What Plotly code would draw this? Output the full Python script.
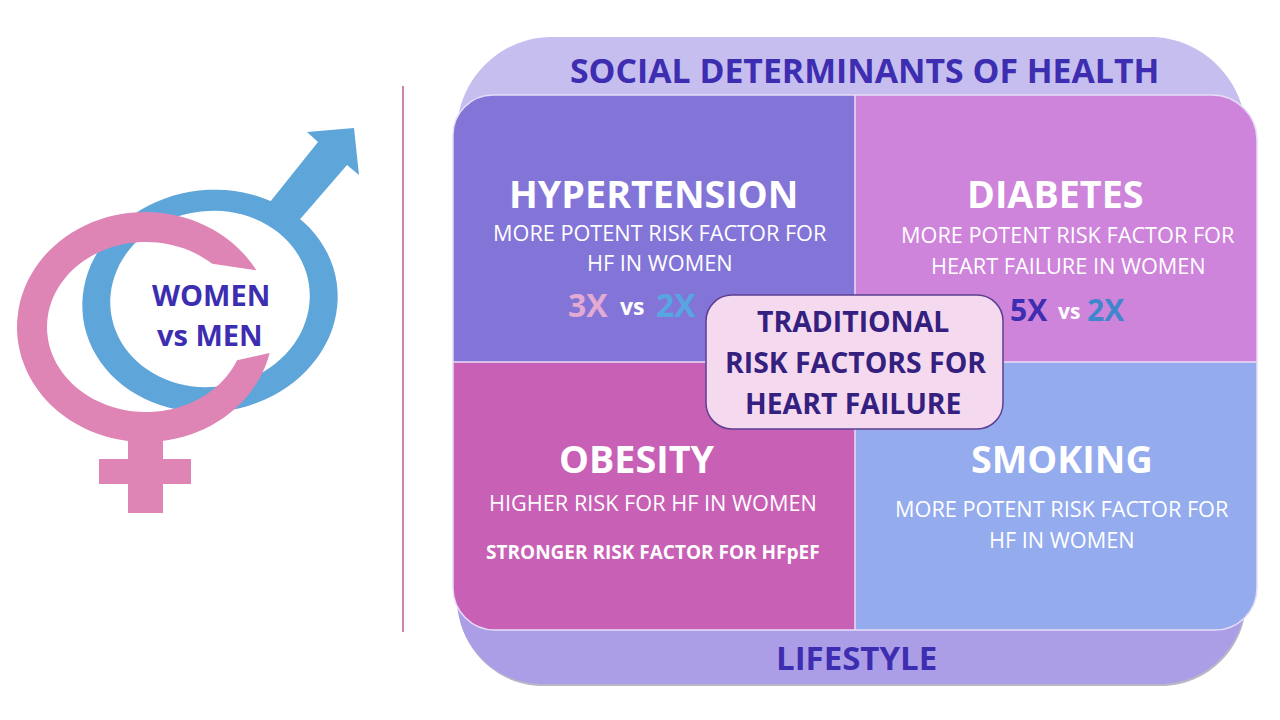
import math

import plotly.graph_objects as go

# hard-coded
FONT = "Open Sans"
INK = "#3D2DB0"
DARK_INK = "#33207F"
PINK = "#DF85B6"
BLUE = "#5EA5D9"

band_labels = ["SOCIAL DETERMINANTS OF HEALTH", "LIFESTYLE"]
factor_names = ["HYPERTENSION", "DIABETES", "OBESITY", "SMOKING"]
factor_notes = [
    ["MORE POTENT RISK FACTOR FOR", "HF IN WOMEN"],
    ["MORE POTENT RISK FACTOR FOR", "HEART FAILURE IN WOMEN"],
    ["HIGHER RISK FOR HF IN WOMEN"],
    ["MORE POTENT RISK FACTOR FOR", "HF IN WOMEN"],
]
obesity_extra = "STRONGER RISK FACTOR FOR HFpEF"
center_lines = ["TRADITIONAL", "RISK FACTORS FOR", "HEART FAILURE"]
symbol_lines = ["WOMEN", "vs MEN"]
hypertension_women, hypertension_men = "3X", "2X"
diabetes_women, diabetes_men = "5X", "2X"
versus = "vs"


def rounded(x0, y0, x1, y1, tl=0, tr=0, br=0, bl=0):
    """Closed svg path of a box with its own radius on every corner"""
    k = 0.45
    return (
        f"M{x0 + tl},{y0} L{x1 - tr},{y0} "
        f"C{x1 - tr * k},{y0} {x1},{y0 + tr * k} {x1},{y0 + tr} "
        f"L{x1},{y1 - br} "
        f"C{x1},{y1 - br * k} {x1 - br * k},{y1} {x1 - br},{y1} "
        f"L{x0 + bl},{y1} "
        f"C{x0 + bl * k},{y1} {x0},{y1 - bl * k} {x0},{y1 - bl} "
        f"L{x0},{y0 + tl} "
        f"C{x0},{y0 + tl * k} {x0 + tl * k},{y0} {x0 + tl},{y0} Z"
    )


def arc(cx, cy, rx, ry, start, stop, tilt=0.0):
    """Points along an ellipse, angles in degrees, y pointing down"""
    n = 90
    pts = []
    t = math.radians(tilt)
    for i in range(n + 1):
        a = math.radians(start + (stop - start) * i / n)
        dx, dy = rx * math.cos(a), ry * math.sin(a)
        pts.append((cx + dx * math.cos(t) - dy * math.sin(t),
                    cy + dx * math.sin(t) + dy * math.cos(t)))
    return pts


def poly(pts):
    return "M" + " L".join(f"{x:.1f},{y:.1f}" for x, y in pts) + " Z"


def box(path, fill, line=None, width=0):
    return dict(type="path", path=path, xref="x", yref="y", fillcolor=fill,
                line=dict(color=line or fill, width=width), layer="above")


def label(x, y, text, size, color="white", bold=False):
    if bold:
        text = f"<b>{text}</b>"
    return dict(x=x, y=y, xref="x", yref="y", text=text, showarrow=False,
                xanchor="center", yanchor="middle",
                font=dict(family=FONT, size=size, color=color))


shapes = []

# divider
shapes.append(dict(type="line", x0=403, x1=403, y0=86, y1=632, xref="x", yref="y",
                   line=dict(color="#C985AB", width=2)))

# male symbol, pink one goes over it
blue_ring = arc(210, 301, 128, 111, 0, 360, -8) + arc(210, 299, 100, 88, 360, 0, -8)
shapes.append(box(poly(blue_ring), BLUE))
shapes.append(box(poly([(270, 202), (318, 142), (307, 132), (354, 128),
                        (359, 175), (347, 165), (302, 217), (285, 235)]), BLUE))

# female symbol
pink_ring = arc(145, 327, 128, 115, 13, 330.5) + arc(146, 327, 99, 85, 312, 23)
shapes.append(box(poly(pink_ring), PINK))
shapes.append(box("M128,438 L163,438 L163,513 L128,513 Z", PINK))
shapes.append(box("M99,459 L191,459 L191,484 L99,484 Z", PINK))

# frame, a bit of shadow below then the two tinted halves
shapes.append(box(rounded(458, 39, 1246, 686, 95, 95, 85, 85), "#B9B6C6"))
shapes.append(box(rounded(457, 37, 1245, 360, 95, 95, 0, 0), "#C6BEEF"))
shapes.append(box(rounded(457, 360, 1245, 684, 0, 0, 85, 85), "#AC9EE6"))

# quadrants
shapes.append(box(rounded(453, 95, 855, 362, tl=40), "#8375D8"))
shapes.append(box(rounded(855, 95, 1257, 362, tr=45), "#CE84DB"))
shapes.append(box(rounded(453, 362, 855, 630, bl=42), "#C860B6"))
shapes.append(box(rounded(855, 362, 1257, 630, br=42), "#94ABEE"))
shapes.append(box(rounded(453, 95, 1257, 630, 40, 45, 42, 42), "rgba(0,0,0,0)",
                  line="#E6DDF8", width=1.5))
shapes.append(dict(type="line", x0=855, x1=855, y0=95, y1=630, xref="x", yref="y",
                   layer="above", line=dict(color="#EBDDF6", width=1.5)))
shapes.append(dict(type="line", x0=453, x1=1257, y0=362, y1=362, xref="x", yref="y",
                   layer="above", line=dict(color="#EBDDF6", width=1.5)))

# center box
shapes.append(box(rounded(706, 295, 1003, 429, 26, 26, 26, 26), "#F5D9EE",
                  line="#5C3F93", width=1.5))

notes_size = 21.7
annotations = [
    label(864, 70, band_labels[0], 33.8, INK, True),
    label(856, 657, band_labels[1], 33, INK, True),
    label(653, 193, factor_names[0], 37.7, bold=True),
    label(660, 232, factor_notes[0][0], notes_size),
    label(660, 262, factor_notes[0][1], notes_size),
    label(588, 304, hypertension_women, 32, "#E3ABD2", True),
    label(632, 306, versus, 23, bold=True),
    label(676, 304, hypertension_men, 32, "#57A6E2", True),
    label(1055, 193, factor_names[1], 37.7, bold=True),
    label(1068, 234, factor_notes[1][0], notes_size),
    label(1068, 265, factor_notes[1][1], notes_size),
    label(1029, 309, diabetes_women, 30, INK, True),
    label(1069, 311, versus, 21, bold=True),
    label(1106, 309, diabetes_men, 30, "#3F86CC", True),
    label(636, 458, factor_names[2], 37.7, bold=True),
    label(653, 502, factor_notes[2][0], notes_size),
    label(653, 552, obesity_extra, 19, bold=True),
    label(1062, 458, factor_names[3], 37.7, bold=True),
    label(1062, 508, factor_notes[3][0], notes_size),
    label(1062, 539, factor_notes[3][1], notes_size),
    label(853, 321, center_lines[0], 28.4, DARK_INK, True),
    label(855, 362, center_lines[1], 28.4, DARK_INK, True),
    label(853, 403, center_lines[2], 28.4, DARK_INK, True),
    label(211, 294, symbol_lines[0], 29, INK, True),
    label(210, 334, symbol_lines[1], 29, INK, True),
]

fig = go.Figure()
fig.update_layout(width=1280, height=720, margin=dict(l=0, r=0, t=0, b=0),
                  paper_bgcolor="white", plot_bgcolor="white", showlegend=False,
                  shapes=shapes, annotations=annotations)
fig.update_xaxes(range=[0, 1280], visible=False)
fig.update_yaxes(range=[720, 0], visible=False)

fig.write_html("out.html", config=dict(displayModeBar=False),
               post_script="document.body.style.margin = '0';")
